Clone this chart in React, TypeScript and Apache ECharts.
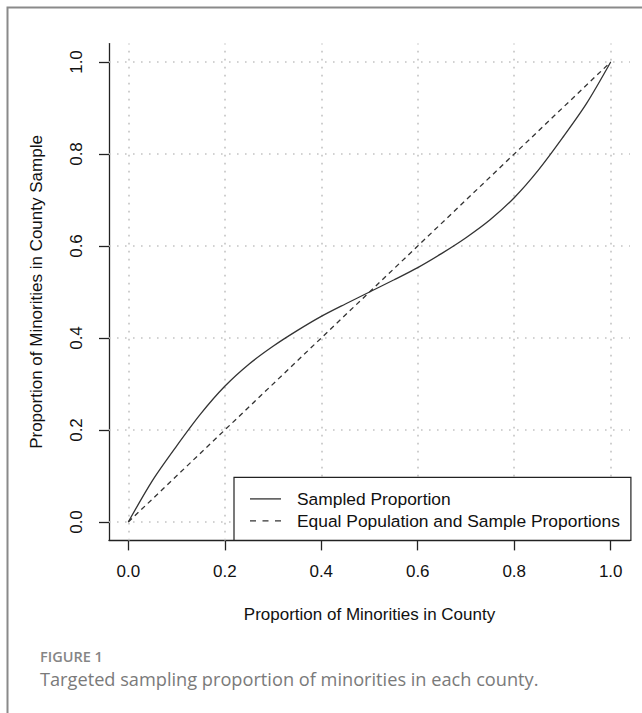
import React, { useEffect, useRef } from "react";
import * as echarts from "echarts";

// ---- data ----
const tickValues = [0, 0.2, 0.4, 0.6, 0.8, 1.0];
const countyProp = [0, 0.05, 0.1, 0.15, 0.2, 0.25, 0.3, 0.35, 0.4, 0.45, 0.5, 0.55, 0.6, 0.65, 0.7, 0.75, 0.8, 0.85, 0.9, 0.95, 1.0];
const sampledProp = [0, 0.09, 0.165, 0.235, 0.295, 0.343, 0.382, 0.416, 0.447, 0.474, 0.5, 0.526, 0.553, 0.584, 0.618, 0.657, 0.705, 0.765, 0.835, 0.91, 1.0];
const equalX = [0, 1];
const equalY = [0, 1];
const seriesNames = ["Sampled Proportion", "Equal Population and Sample Proportions"];
const xTitle = "Proportion of Minorities in County";
const yTitle = "Proportion of Minorities in County Sample";
const captionLabel = "FIGURE 1";
const captionText = "Targeted sampling proportion of minorities in each county.";

const FONT = "'Liberation Sans', Arial, sans-serif";
const SOLID_ICON = "path://M0,0H31V1.3H0Z";
const DASH_ICON = "path://M0,0H6V1.3H0Z M12.5,0H18.5V1.3H12.5Z M25,0H31V1.3H25Z";

export default function App() {
  const ref = useRef<HTMLDivElement>(null);
  useEffect(() => {
    if (!ref.current) return;
    const chart = echarts.init(ref.current, null, { renderer: "svg" });
    const gridColor = "#c4c4c4";
    const option: any = {
      animation: false,
      backgroundColor: "#ffffff",
      grid: { left: 109, right: 12, top: 43.6, bottom: 172.6, containLabel: false },
      xAxis: {
        type: "value",
        min: -0.04,
        max: 1.04,
        name: xTitle,
        nameLocation: "middle",
        nameGap: 66,
        nameTextStyle: { fontFamily: FONT, fontSize: 17, color: "#111" },
        axisLine: { show: true, onZero: false, lineStyle: { color: "#222", width: 1.3 } },
        axisTick: { show: true, length: 10, customValues: tickValues, lineStyle: { color: "#222", width: 1.3 } },
        axisLabel: {
          customValues: tickValues,
          margin: 23,
          fontFamily: FONT,
          fontSize: 17,
          color: "#111",
          formatter: (v: number) => v.toFixed(1),
        },
        splitLine: { show: false },
      },
      yAxis: {
        type: "value",
        min: -0.04,
        max: 1.04,
        name: yTitle,
        nameLocation: "middle",
        nameGap: 64,
        nameTextStyle: { fontFamily: FONT, fontSize: 17, color: "#111" },
        axisLine: { show: true, onZero: false, lineStyle: { color: "#222", width: 1.3 } },
        axisTick: { show: true, length: 10, customValues: tickValues, lineStyle: { color: "#222", width: 1.3 } },
        axisLabel: {
          customValues: tickValues,
          rotate: 90,
          margin: 24,
          fontFamily: FONT,
          fontSize: 17,
          color: "#111",
          formatter: (v: number) => v.toFixed(1),
        },
        splitLine: { show: false },
      },
      legend: {
        show: true,
        orient: "vertical",
        left: 234,
        bottom: 172.6,
        padding: [13, 11, 11, 16],
        itemWidth: 31,
        itemHeight: 14,
        itemGap: 5,
        symbolKeepAspect: true,
        borderColor: "#222",
        borderWidth: 1.2,
        borderRadius: 0,
        backgroundColor: "#ffffff",
        textStyle: { fontFamily: FONT, fontSize: 17.4, color: "#111", padding: [0, 0, 0, 11], lineHeight: 17 },
        data: [
          { name: seriesNames[0], icon: SOLID_ICON },
          { name: seriesNames[1], icon: DASH_ICON },
        ],
      },
      series: [
        {
          name: seriesNames[0],
          type: "line",
          data: countyProp.map((x, i) => [x, sampledProp[i]]),
          smooth: 0.3,
          showSymbol: false,
          symbol: "none",
          lineStyle: { color: "#333", width: 1.3, type: "solid" },
          itemStyle: { color: "#333" },
          z: 3,
        },
        {
          name: seriesNames[1],
          type: "line",
          data: equalX.map((x, i) => [x, equalY[i]]),
          showSymbol: false,
          symbol: "none",
          lineStyle: { color: "#333", width: 1.3, type: [5, 4] },
          itemStyle: { color: "#333" },
          z: 3,
          markLine: {
            silent: true,
            symbol: ["none", "none"],
            label: { show: false },
            z: 1,
            lineStyle: { color: gridColor, width: 1.6, type: [1.6, 6.4] },
            data: [
              ...tickValues.map((v) => ({ xAxis: v })),
              ...tickValues.map((v) => ({ yAxis: v })),
            ],
          },
        },
      ],
      graphic: [
        {
          type: "rect",
          shape: { x: 7.5, y: 7.5, width: 800, height: 800 },
          style: { fill: "none", stroke: "#8a8a8a", lineWidth: 2 },
          silent: true,
        },
        {
          type: "text",
          left: 40,
          top: 649,
          style: { text: captionLabel, fontFamily: "'Open Sans', sans-serif", fontWeight: 600, fontSize: 14.5, fill: "#858585" },
        },
        {
          type: "text",
          left: 40,
          top: 670,
          style: { text: captionText, fontFamily: "'Open Sans', sans-serif", fontSize: 18.2, fill: "#7a7a7a" },
        },
      ],
    };
    chart.setOption(option);
    return () => chart.dispose();
  }, []);
  return (
    <div
      ref={ref}
      style={{ position: "absolute", left: 0, top: 0, width: 642, height: 713, background: "#fff" }}
    />
  );
}
